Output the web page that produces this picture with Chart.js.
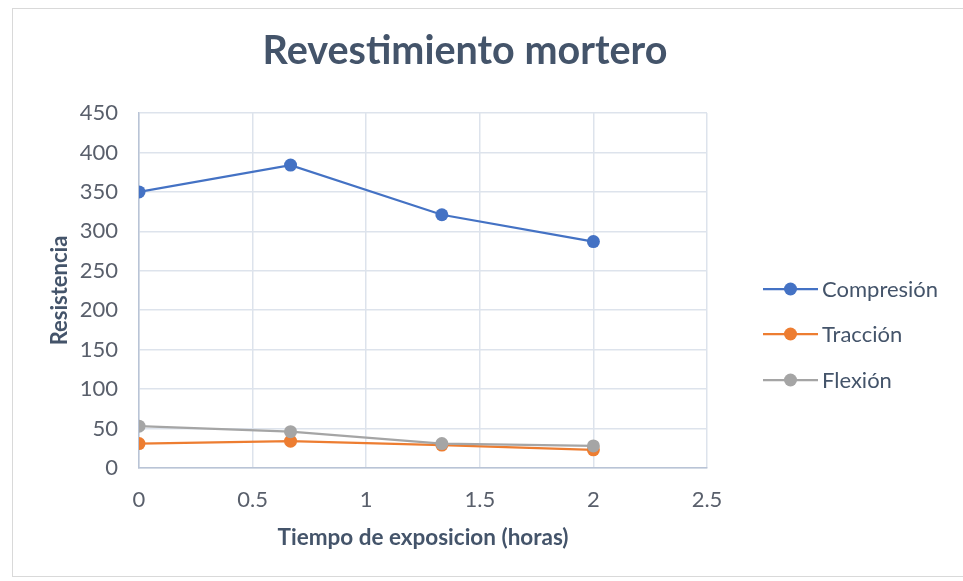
<!DOCTYPE html>
<html>
<head>
<meta charset="utf-8">
<script src="https://cdn.jsdelivr.net/npm/chart.js@4"></script>
<style>
  html, body { margin: 0; padding: 0; background: #ffffff; }
  #wrap { width: 963px; height: 581px; }
</style>
</head>
<body>
<div id="wrap"><canvas id="chart" width="963" height="581"></canvas></div>
<script>
// Exposure time (hours) and measured strength for each test type
const horas = [0, 0.667, 1.333, 2];
const compresion = [350, 384, 321, 287];
const traccion = [31, 34, 29, 23];
const flexion = [53, 46, 31, 28];

const TITULO = 'Revestimiento mortero';
const FONT = 'Lato, "Open Sans", sans-serif';
const TEXT_DARK = '#44546a';
const TEXT_TICK = '#595f6b';

function toPoints(ys) {
    return ys.map((y, i) => ({ x: horas[i], y: y }));
}

// Light frame around the whole chart, plus the centred chart title
const framePlugin = {
    id: 'frame',
    beforeDraw(chart) {
        const ctx = chart.ctx;
        ctx.save();
        ctx.strokeStyle = '#d9d9d9';
        ctx.lineWidth = 1;
        ctx.strokeRect(12.5, 8.5, 960, 568);
        ctx.fillStyle = TEXT_DARK;
        ctx.font = 'bold 39.5px ' + FONT;
        ctx.textAlign = 'center';
        ctx.textBaseline = 'middle';
        ctx.fillText(TITULO, 465, 51);
        ctx.restore();
    }
};

// Excel-style legend: short line with the marker in the middle
const sideLegend = {
    id: 'sideLegend',
    afterDraw(chart) {
        const ctx = chart.ctx;
        const rows = [289, 334, 380];
        ctx.save();
        chart.data.datasets.forEach((ds, i) => {
            const y = rows[i];
            ctx.strokeStyle = ds.borderColor;
            ctx.lineWidth = 2.25;
            ctx.beginPath();
            ctx.moveTo(763, y);
            ctx.lineTo(818, y);
            ctx.stroke();
            ctx.fillStyle = ds.backgroundColor;
            ctx.beginPath();
            ctx.arc(790.5, y, 6.5, 0, Math.PI * 2);
            ctx.fill();
            ctx.fillStyle = TEXT_DARK;
            ctx.font = '22px ' + FONT;
            ctx.textBaseline = 'middle';
            ctx.textAlign = 'left';
            ctx.fillText(ds.label, 822, y + 1);
        });
        ctx.restore();
    }
};

function serie(label, color, ys, order) {
    return {
        label: label,
        data: toPoints(ys),
        borderColor: color,
        backgroundColor: color,
        borderWidth: 2.25,
        pointRadius: 6.5,
        pointHoverRadius: 6.5,
        pointBorderWidth: 0,
        tension: 0,
        order: order
    };
}

new Chart(document.getElementById('chart'), {
    type: 'line',
    data: {
        datasets: [
            serie('Compresión', '#4472c4', compresion, 2),
            serie('Tracción', '#ed7d31', traccion, 1),
            serie('Flexión', '#a5a5a5', flexion, 0)
        ]
    },
    options: {
        responsive: false,
        animation: false,
        layout: { padding: { left: 0, right: 256, top: 113, bottom: 0 } },
        plugins: {
            legend: { display: false },
            tooltip: { enabled: false },
            title: { display: false }
        },
        scales: {
            x: {
                type: 'linear',
                min: 0,
                max: 2.5,
                afterFit: (s) => { s.height = 113; },
                ticks: {
                    stepSize: 0.5,
                    padding: 19,
                    color: TEXT_TICK,
                    font: { family: FONT, size: 22 },
                    maxRotation: 0,
                    callback: (v) => String(v)
                },
                grid: { color: '#dde3ec', lineWidth: 1.5, drawTicks: false },
                border: { color: '#b9c4d6', width: 1.5 },
                title: {
                    display: true,
                    text: 'Tiempo de exposicion (horas)',
                    color: TEXT_DARK,
                    font: { family: FONT, size: 22.5, weight: 'bold' },
                    padding: { top: 0, bottom: 30 }
                }
            },
            y: {
                min: 0,
                max: 450,
                afterFit: (s) => { s.width = 139; },
                ticks: {
                    stepSize: 50,
                    padding: 21,
                    color: TEXT_TICK,
                    font: { family: FONT, size: 22 }
                },
                grid: { color: '#dde3ec', lineWidth: 1.5, drawTicks: false },
                border: { color: '#b9c4d6', width: 1.5 },
                title: {
                    display: true,
                    text: 'Resistencia',
                    color: TEXT_DARK,
                    font: { family: FONT, size: 22, weight: 'bold' },
                    padding: { top: 47, bottom: 0 }
                }
            }
        }
    },
    plugins: [framePlugin, sideLegend]
});
</script>
</body>
</html>
